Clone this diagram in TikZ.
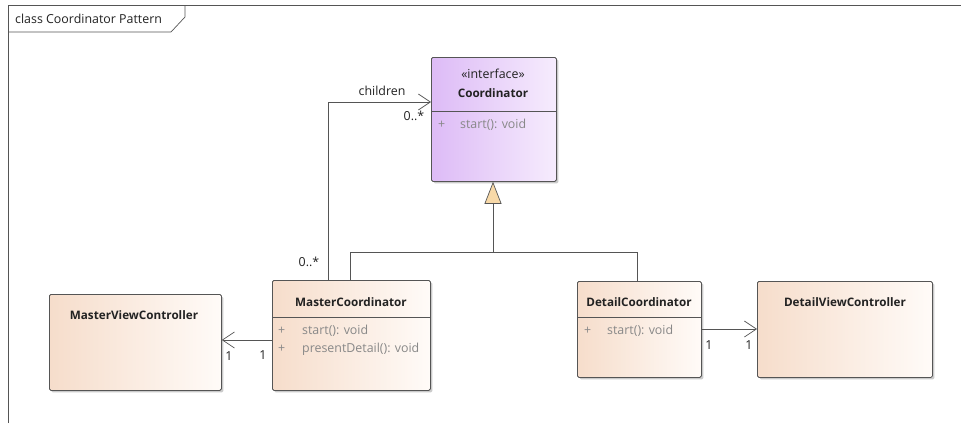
\documentclass[tikz,border=0pt]{standalone}
\usepackage{fontspec}
\setmainfont{Open Sans}
\usetikzlibrary{arrows.meta,shadows}
\definecolor{ink}{HTML}{222222}
\definecolor{attr}{HTML}{888888}
\definecolor{edge}{HTML}{555555}
\definecolor{peachL}{HTML}{F6DDCB}
\definecolor{peachR}{HTML}{FFFBF8}
\definecolor{lilacL}{HTML}{DDBBF6}
\definecolor{lilacR}{HTML}{F6ECFD}
\definecolor{genfill}{HTML}{F8D9A8}
\tikzset{
  every node/.style={font=\fontsize{12.4}{14}\selectfont, text=ink, inner sep=0pt},
  classbox/.style={draw=edge, line width=0.8pt, rounded corners=1.5pt, anchor=north west,
    drop shadow={shadow xshift=2pt, shadow yshift=-2pt, opacity=0.35, fill=black!60},
    left color=peachL, right color=peachR},
  ifacebox/.style={classbox, left color=lilacL, right color=lilacR},
  title/.style={font=\fontsize{11.7}{14}\selectfont\bfseries},
  member/.style={text=attr, anchor=west},
  conn/.style={draw=edge, line width=0.7pt},
  assoc/.style={conn, -{Straight Barb[length=12pt, width=16pt, line width=0.7pt]}},
  realize/.style={conn, -{Triangle[open, length=22pt, width=17pt, fill=genfill, line width=0.7pt]}},
  mult/.style={text=ink},
}
\begin{document}
\begin{tikzpicture}[x=1pt, y=-1pt]
\useasboundingbox (0,0) rectangle (961,423);

% diagram frame and name tab
\draw[edge, line width=0.7pt] (8,423) -- (8,5) -- (961,5);
\draw[edge, line width=0.7pt] (8,32) -- (171,32) -- (185,17) -- (185,5);
\node[anchor=west] (frametitle) at (15,19) {class Coordinator Pattern};

% interface Coordinator
\node[ifacebox, minimum width=125pt, minimum height=124pt] (coord) at (431,57) {};
\draw[edge, line width=0.7pt] (coord.west |- 0,111) -- (coord.east |- 0,111);
\node (coordst) at (493,74) {«interface»};
\node[title] (coordname) at (493,93) {Coordinator};
\node[member] (coordp) at (438,125) {+};
\node[member] (coordm) at (460,125) {start(): void};

% MasterCoordinator
\node[classbox, minimum width=158pt, minimum height=110pt] (mc) at (272,280) {};
\draw[edge, line width=0.7pt] (mc.west |- 0,317) -- (mc.east |- 0,317);
\node[title] (mcname) at (351,302) {MasterCoordinator};
\node[member] (mcp1) at (278,331) {+};
\node[member] (mcm1) at (302,331) {start(): void};
\node[member] (mcp2) at (278,349) {+};
\node[member] (mcm2) at (302,349) {presentDetail(): void};

% MasterViewController
\node[classbox, minimum width=172pt, minimum height=96pt] (mvc) at (49,294) {};
\node[title] (mvcname) at (134,315) {MasterViewController};

% DetailCoordinator
\node[classbox, minimum width=124pt, minimum height=96pt] (dc) at (577,281) {};
\draw[edge, line width=0.7pt] (dc.west |- 0,317) -- (dc.east |- 0,317);
\node[title] (dcname) at (639,302) {DetailCoordinator};
\node[member] (dcp) at (584,331) {+};
\node[member] (dcm) at (607,331) {start(): void};

% DetailViewController
\node[classbox, minimum width=175pt, minimum height=96pt] (dvc) at (757,281) {};
\node[title] (dvcname) at (845,302) {DetailViewController};

% realization of Coordinator
\coordinate (gjoin) at (493,252);
\coordinate (gleft) at (350,252);
\coordinate (gright) at (637,252);
\draw[conn] (mc.north -| gleft) -- (gleft) -- (gright) -- (dc.north -| gright);
\draw[realize] (gjoin) -- (coord.south -| gjoin);

% children association
\coordinate (cbend) at (328,102);
\draw[assoc] (mc.north -| cbend) -- (cbend) -- (coord.west |- cbend);
\node (childlbl) at (382,91) {children};
\node[mult] (childm1) at (414,116) {0..*};
\node[mult] (childm2) at (309,262) {0..*};

% MasterCoordinator -> MasterViewController
\coordinate (mrow) at (0,340);
\draw[assoc] (mc.west |- mrow) -- (mvc.east |- mrow);
\node[mult] (mm1) at (229,356) {1};
\node[mult] (mm2) at (263,355) {1};

% DetailCoordinator -> DetailViewController
\coordinate (drow) at (0,329);
\draw[assoc] (dc.east |- drow) -- (dvc.west |- drow);
\node[mult] (dm1) at (709,345) {1};
\node[mult] (dm2) at (749,345) {1};
\end{tikzpicture}
\end{document}
